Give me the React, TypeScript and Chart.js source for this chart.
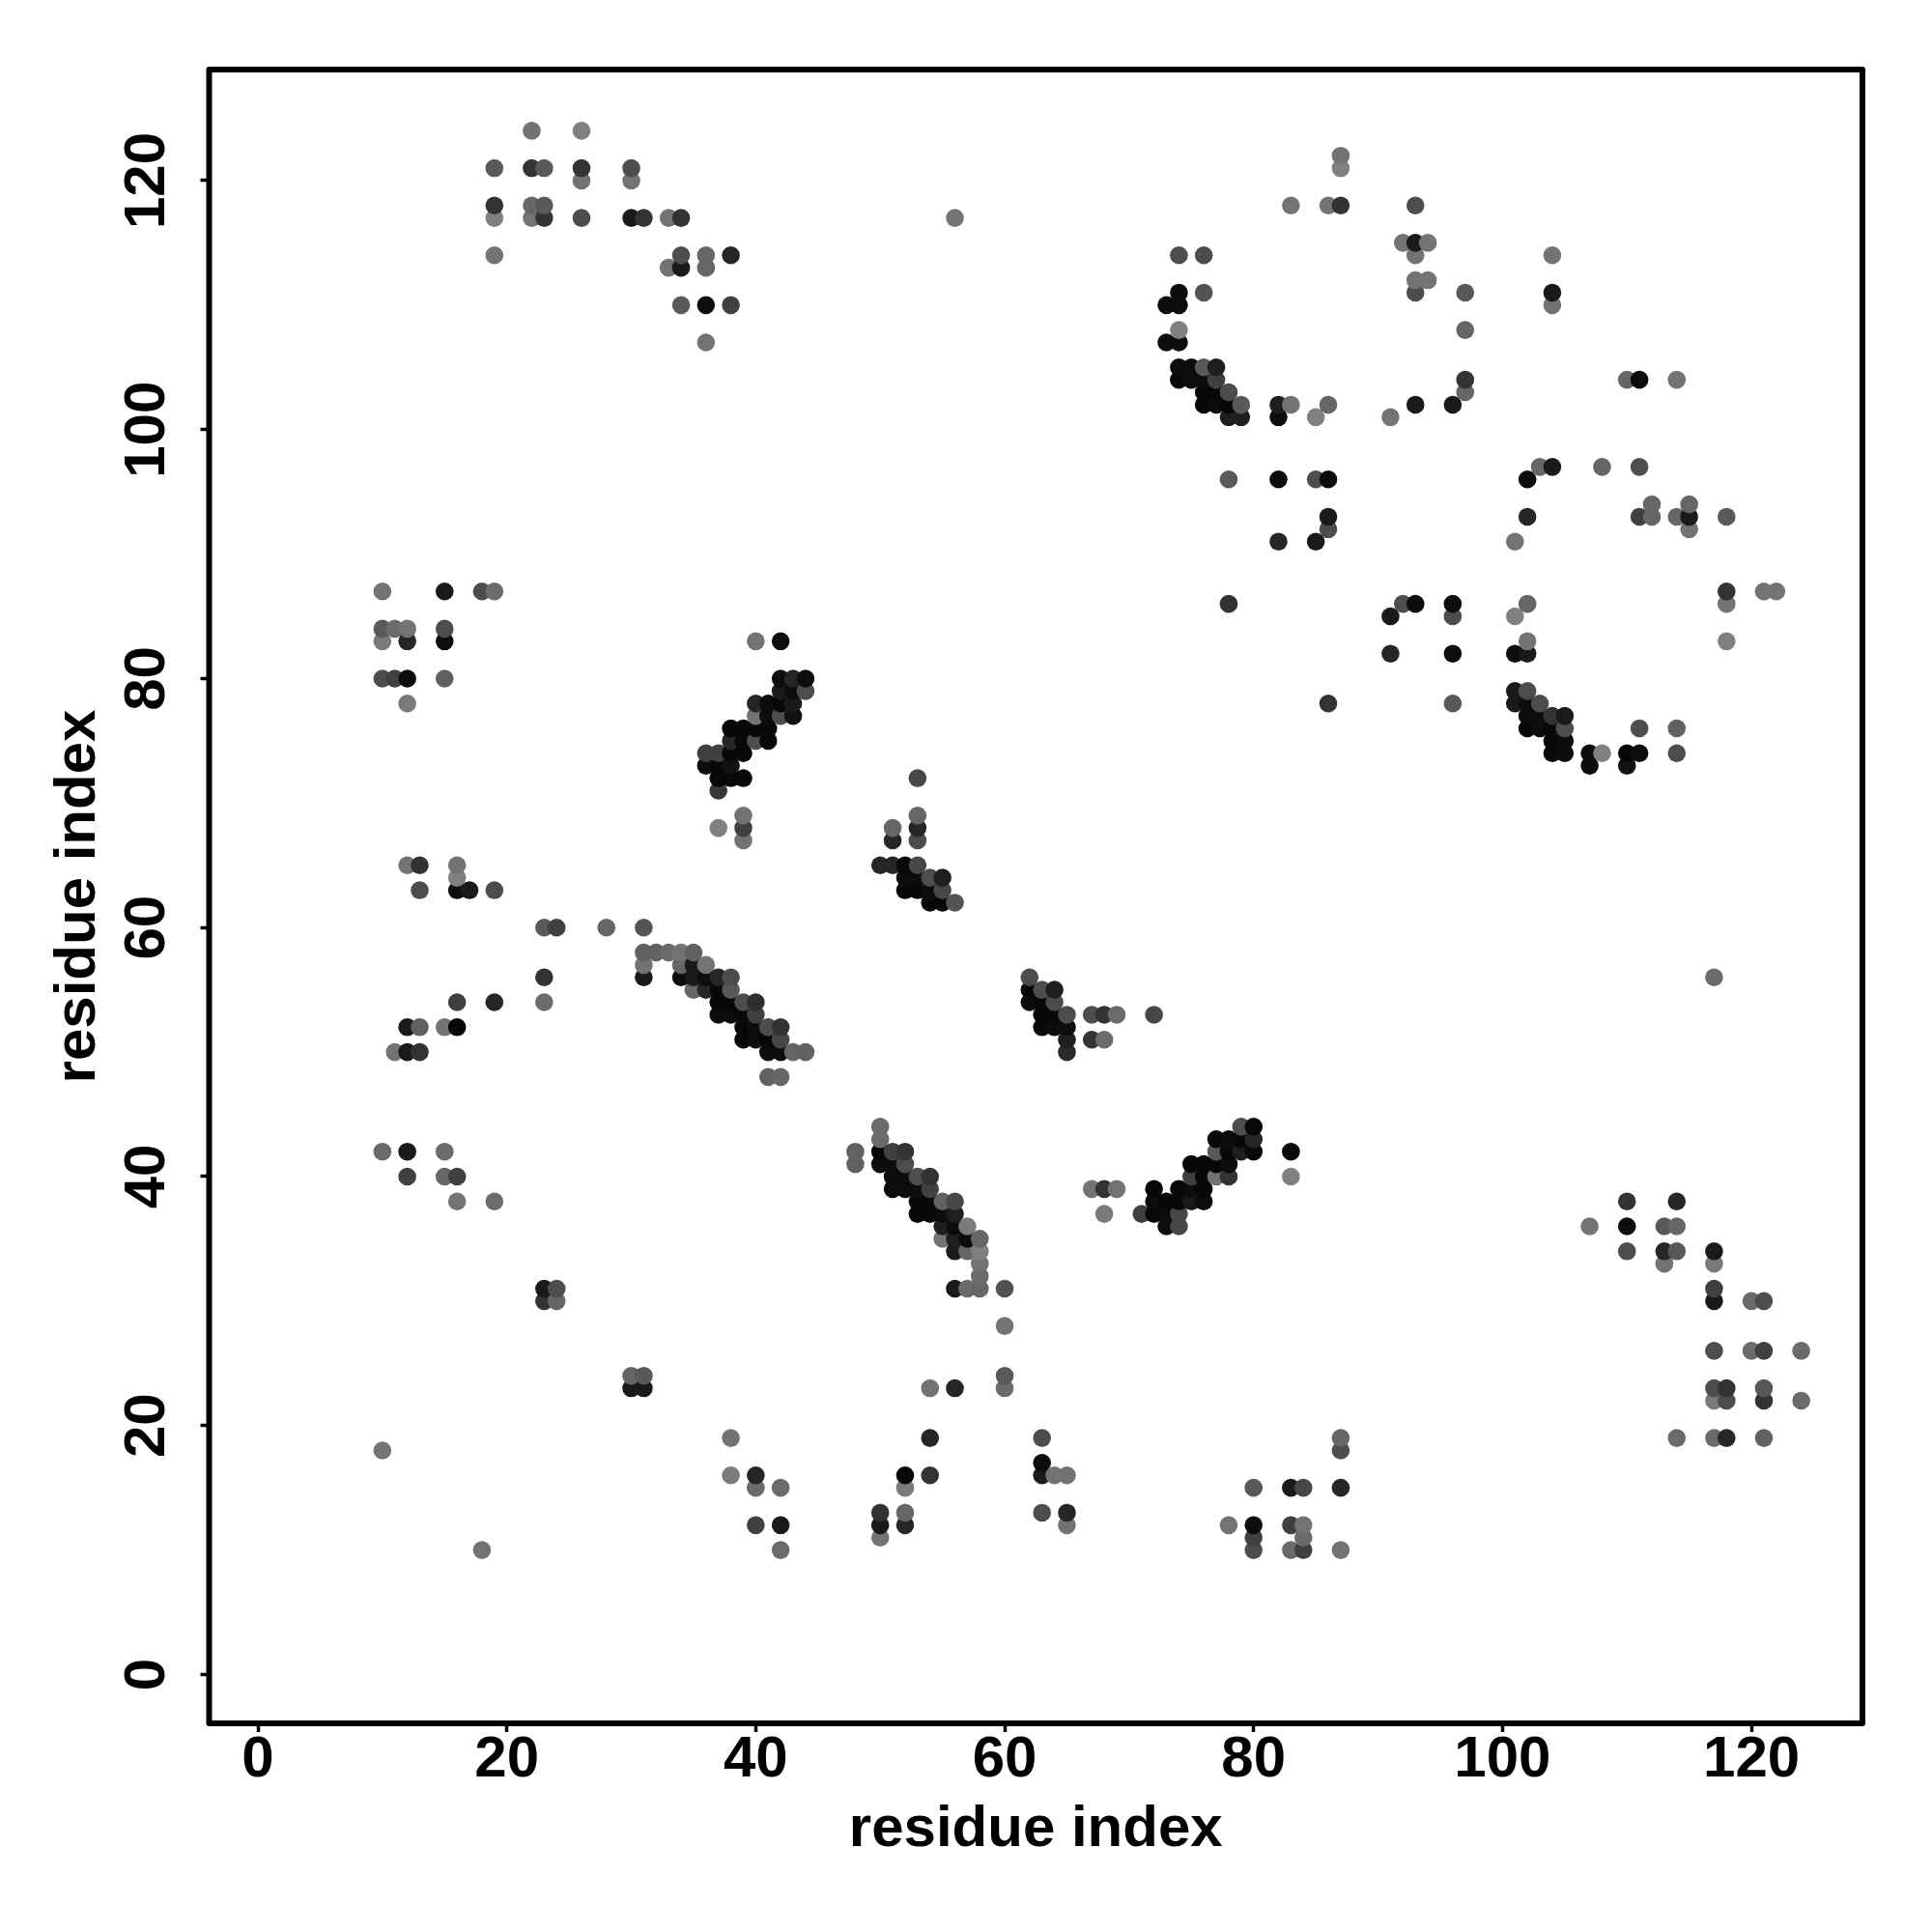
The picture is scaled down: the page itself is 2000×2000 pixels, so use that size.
import { useEffect, useRef } from "react";
import { Chart, registerables } from "chart.js";

Chart.register(...registerables);

type P = [number, number, number];

const axisTitle = "residue index";
const tickValues = [0, 20, 40, 60, 80, 100, 120];

// [residue x, residue y, grey level 0..1]
const topLeft: P[] = [
  [22,124,.45],[26,124,.5],[19,121,.35],[22,121,.2],[23,121,.35],[26,121,.2],[30,121,.3],[26,120,.45],[30,120,.45],
  [19,118,.2],[22,118,.4],[23,118,.35],[19,117,.5],[22,117,.45],[23,117,.2],[26,117,.3],[30,117,.1],[31,117,.2],[33,117,.45],[34,117,.2],
  [19,114,.45],[34,114,.3],[36,114,.4],[38,114,.15],[33,113,.45],[34,113,.1],[36,113,.4],[34,110,.35],[36,110,.05],[38,110,.25],[36,107,.45],[56,117,.45],
];
const topRight: P[] = [
  [87,122,.45],[87,121,.5],[83,118,.45],[86,118,.45],[87,118,.2],[93,118,.3],[92,115,.45],[93,115,.1],[94,115,.45],
  [74,114,.3],[76,114,.3],[93,114,.45],[104,114,.45],[93,112,.45],[94,112,.45],[74,111,.05],[76,111,.33],[93,111,.3],[97,111,.35],[104,111,.1],
  [73,110,.05],[74,110,.05],[104,110,.45],[74,108,.5],[97,108,.4],[73,107,.05],[74,107,.05],
  [74,105,.05],[75,105,.05],[76,105,.35],[77,105,.12],[74,104,.03],[75,104,.05],[76,104,.05],[77,104,.25],[97,104,.2],[110,104,.4],[111,104,.05],[114,104,.45],
  [76,103,.03],[77,103,.03],[78,103,.3],[97,103,.4],[76,102,.03],[77,102,.05],[78,102,.03],[79,102,.35],[82,102,.12],[83,102,.45],[86,102,.4],[93,102,.1],[96,102,.1],
  [78,101,.12],[79,101,.12],[82,101,.05],[85,101,.5],[91,101,.45],
];
const rightMiddle: P[] = [
  [103,97,.4],[104,97,.1],[108,97,.4],[111,97,.3],[78,96,.35],[82,96,.05],[85,96,.3],[86,96,.05],[102,96,.05],
  [112,94,.4],[115,94,.4],[86,93,.1],[102,93,.15],[111,93,.25],[112,93,.4],[114,93,.4],[115,93,.1],[118,93,.35],[86,92,.3],[115,92,.45],
  [82,91,.15],[85,91,.1],[101,91,.45],[118,87,.2],[121,87,.45],[122,87,.45],[78,86,.2],[92,86,.3],[93,86,.05],[96,86,.05],[102,86,.4],[118,86,.45],
  [91,85,.1],[96,85,.3],[101,85,.5],[102,83,.45],[118,83,.5],[91,82,.15],[96,82,.05],[101,82,.05],[102,82,.1],
  [101,79,.1],[102,79,.3],[86,78,.2],[96,78,.35],[101,78,.1],[102,78,.05],[103,78,.3],
  [102,77,.05],[103,77,.05],[104,77,.2],[105,77,.1],[102,76,.03],[103,76,.05],[104,76,.03],[105,76,.3],[111,76,.3],[114,76,.38],
  [104,75,.03],[105,75,.05],[104,74,.03],[105,74,.05],[107,74,.05],[108,74,.5],[110,74,.02],[111,74,.05],[114,74,.3],[107,73,.05],[110,73,.07],
];
const leftMiddle: P[] = [
  [10,87,.45],[15,87,.1],[18,87,.3],[19,87,.42],[10,84,.35],[11,84,.42],[12,84,.45],[15,84,.3],[10,83,.48],[12,83,.15],[15,83,.05],
  [10,80,.3],[11,80,.25],[12,80,.05],[15,80,.38],[12,78,.48],[12,65,.45],[13,65,.2],[16,65,.45],[16,64,.5],[13,63,.3],[16,63,.05],[17,63,.1],[19,63,.3],
  [23,60,.35],[24,60,.25],[28,60,.4],[23,56,.2],[16,54,.25],[19,54,.15],[23,54,.42],[12,52,.1],[13,52,.38],[15,52,.45],[16,52,.03],[11,50,.45],[12,50,.1],[13,50,.2],
  [10,42,.42],[12,42,.1],[15,42,.42],[12,40,.25],[15,40,.4],[16,40,.25],[16,38,.45],[19,38,.42],
  [23,31,.1],[24,31,.3],[23,30,.2],[24,30,.4],[30,24,.4],[31,24,.35],[30,23,.1],[31,23,.1],
];
const helixUpper: P[] = [
  [40,83,.45],[42,83,.05],[42,80,.05],[43,80,.15],[44,80,.05],[42,79,.1],[43,79,.05],[44,79,.3],[40,78,.15],[41,78,.05],[42,78,.03],[43,78,.1],
  [40,77,.45],[41,77,.05],[42,77,.3],[43,77,.07],[38,76,.03],[39,76,.03],[40,76,.03],[41,76,.03],[38,75,.15],[39,75,.03],[40,75,.3],[41,75,.03],
  [36,74,.25],[37,74,.25],[38,74,.03],[39,74,.03],[36,73,.05],[37,73,.03],[38,73,.07],[37,72,.03],[38,72,.03],[39,72,.03],[37,71,.22],
  [39,69,.45],[37,68,.5],[39,68,.25],[39,67,.45],
];
const sheetMiddle: P[] = [
  [53,72,.28],[53,69,.4],[51,68,.4],[53,68,.15],[51,67,.15],[53,67,.3],[50,65,.15],[51,65,.15],[52,65,.03],[53,65,.28],
  [52,64,.05],[53,64,.05],[54,64,.3],[55,64,.12],[52,63,.03],[53,63,.03],[54,63,.05],[55,63,.28],[54,62,.03],[55,62,.03],[56,62,.33],
];
const helixLower: P[] = [
  [31,60,.33],[31,58,.38],[32,58,.38],[33,58,.42],[34,58,.45],[35,58,.38],[31,57,.45],[34,57,.4],[35,57,.1],[36,57,.45],
  [31,56,.1],[34,56,.05],[35,56,.1],[36,56,.05],[37,56,.15],[38,56,.3],[35,55,.4],[36,55,.15],[37,55,.03],[38,55,.35],
  [37,54,.03],[38,54,.03],[39,54,.3],[40,54,.18],[37,53,.05],[38,53,.05],[39,53,.03],[40,53,.25],[39,52,.03],[40,52,.05],[41,52,.3],[42,52,.2],
  [39,51,.03],[40,51,.05],[41,51,.03],[42,51,.28],[41,50,.05],[42,50,.05],[43,50,.4],[44,50,.38],[41,48,.38],[42,48,.4],
];
const sheetLower: P[] = [
  [62,56,.3],[62,55,.03],[63,55,.3],[64,55,.12],[62,54,.05],[63,54,.03],[64,54,.3],[63,53,.03],[64,53,.03],[65,53,.3],[67,53,.3],[68,53,.2],[69,53,.42],[72,53,.28],
  [63,52,.03],[64,52,.05],[65,52,.05],[65,51,.12],[67,51,.2],[68,51,.42],[65,50,.17],
];
const strandDown: P[] = [
  [50,44,.42],[50,43,.42],[48,42,.38],[50,42,.03],[51,42,.25],[52,42,.2],[48,41,.38],[50,41,.05],[51,41,.05],[52,41,.3],
  [51,40,.05],[52,40,.05],[53,40,.3],[54,40,.2],[51,39,.05],[52,39,.05],[53,39,.05],[54,39,.25],[53,38,.03],[54,38,.03],[55,38,.38],[56,38,.28],
  [53,37,.03],[54,37,.03],[55,37,.05],[56,37,.12],[55,36,.12],[56,36,.05],[57,36,.48],[55,35,.45],[56,35,.12],[57,35,.05],[58,35,.4],
  [56,34,.1],[57,34,.4],[58,34,.5],[58,33,.45],[58,32,.42],[56,31,.1],[57,31,.42],[58,31,.4],[60,31,.32],[60,28,.45],[60,24,.35],[54,23,.45],[56,23,.15],[60,23,.42],
];
const strandUp: P[] = [
  [79,44,.3],[80,44,.03],[77,43,.03],[78,43,.05],[79,43,.03],[80,43,.15],[77,42,.35],[78,42,.03],[79,42,.12],[80,42,.03],[83,42,.03],
  [75,41,.03],[76,41,.03],[77,41,.03],[78,41,.05],[75,40,.25],[76,40,.03],[77,40,.45],[78,40,.2],[83,40,.5],
  [67,39,.45],[68,39,.2],[69,39,.45],[72,39,.03],[74,39,.03],[75,39,.05],[76,39,.03],[72,38,.05],[73,38,.03],[74,38,.03],[75,38,.1],[76,38,.05],
  [68,37,.48],[71,37,.25],[72,37,.03],[73,37,.05],[74,37,.28],[73,36,.05],[74,36,.28],
];
const bottomRight: P[] = [
  [117,56,.42],[110,38,.2],[114,38,.15],[107,36,.45],[110,36,.05],[113,36,.35],[114,36,.4],[110,34,.3],[113,34,.15],[114,34,.35],[117,34,.1],[113,33,.45],[117,33,.48],
  [117,31,.25],[117,30,.1],[120,30,.42],[121,30,.3],[117,26,.3],[120,26,.42],[121,26,.25],[124,26,.42],[117,23,.3],[118,23,.2],[121,23,.35],
  [117,22,.48],[118,22,.3],[121,22,.2],[124,22,.42],[114,19,.42],[117,19,.42],[118,19,.15],[121,19,.38],
];
const bottomRow: P[] = [
  [38,19,.45],[54,19,.15],[63,19,.3],[87,19,.4],[10,18,.45],[87,18,.3],[63,17,.05],[38,16,.48],[40,16,.15],[52,16,.03],[54,16,.2],[63,16,.1],[64,16,.45],[65,16,.45],
  [40,15,.42],[42,15,.42],[52,15,.48],[80,15,.35],[83,15,.1],[84,15,.28],[87,15,.15],[50,13,.2],[52,13,.4],[63,13,.3],[65,13,.15],
  [40,12,.25],[42,12,.1],[50,12,.1],[52,12,.15],[65,12,.45],[78,12,.45],[80,12,.05],[83,12,.25],[84,12,.45],[50,11,.45],[80,11,.25],[84,11,.42],
  [18,10,.45],[42,10,.42],[80,10,.3],[83,10,.42],[84,10,.25],[87,10,.45],
];

const allPoints: P[] = [
  ...topLeft, ...topRight, ...rightMiddle, ...leftMiddle, ...helixUpper, ...sheetMiddle,
  ...helixLower, ...sheetLower, ...strandDown, ...strandUp, ...bottomRight, ...bottomRow,
].sort((a, b) => a[0] - b[0] || a[1] - b[1]);

const grey = (g: number) => {
  const v = Math.round(g * 255);
  return `rgb(${v},${v},${v})`;
};

const FONT = "'Liberation Sans', Arial, sans-serif";
const AXIS_MIN = -3.92;
const AXIS_MAX = 128.92;

const framePlugin = {
  id: "frameAndYLabels",
  afterDraw(chart: any) {
    const { ctx, scales, chartArea } = chart;
    ctx.save();
    ctx.strokeStyle = "#000";
    ctx.lineWidth = 6;
    ctx.lineJoin = "round";
    ctx.strokeRect(chartArea.left, chartArea.top, chartArea.right - chartArea.left, chartArea.bottom - chartArea.top);
    ctx.font = `bold 60px ${FONT}`;
    ctx.fillStyle = "#000";
    ctx.textAlign = "center";
    ctx.textBaseline = "alphabetic";
    for (const value of tickValues) {
      ctx.save();
      ctx.translate(169.5, scales.y.getPixelForValue(value));
      ctx.rotate(-Math.PI / 2);
      ctx.fillText(String(value), 0, 0);
      ctx.restore();
    }
    ctx.restore();
  },
};

const gridOpts = { display: true, drawOnChartArea: false, drawTicks: true, tickLength: 9, tickWidth: 3.5, tickColor: "#000" };

export default function App() {
  const ref = useRef<HTMLCanvasElement>(null);
  useEffect(() => {
    const chart = new Chart(ref.current!, {
      type: "scatter",
      plugins: [framePlugin],
      data: {
        datasets: [
          {
            data: allPoints.map(([x, y]) => ({ x, y })),
            backgroundColor: allPoints.map((p) => grey(p[2])),
            borderWidth: 0,
            pointRadius: 9.3,
            pointHoverRadius: 9.3,
          },
        ],
      },
      options: {
        responsive: false,
        animation: false,
        layout: { padding: { left: 0, right: 72, top: 72, bottom: 0 } },
        plugins: { legend: { display: false }, tooltip: { enabled: false } },
        scales: {
          x: {
            type: "linear",
            min: AXIS_MIN,
            max: AXIS_MAX,
            afterBuildTicks: (s: any) => { s.ticks = tickValues.map((value) => ({ value })); },
            afterFit: (s: any) => { s.height = 216; },
            grid: gridOpts,
            border: { display: false },
            ticks: { display: true, font: { family: FONT, size: 60, weight: "bold" }, color: "#000", padding: -7, maxRotation: 0, autoSkip: false },
            title: { display: true, text: axisTitle, font: { family: FONT, size: 60, weight: "bold" }, color: "#000", padding: { top: 0, bottom: 70 } },
          },
          y: {
            type: "linear",
            min: AXIS_MIN,
            max: AXIS_MAX,
            afterBuildTicks: (s: any) => { s.ticks = tickValues.map((value) => ({ value })); },
            afterFit: (s: any) => { s.width = 216.5; },
            grid: gridOpts,
            border: { display: false },
            ticks: { display: false },
            title: { display: true, text: axisTitle, font: { family: FONT, size: 60, weight: "bold" }, color: "#000", padding: { top: 45, bottom: 0 } },
          },
        },
      },
    } as any);
    return () => chart.destroy();
  }, []);
  return <canvas ref={ref} width={2000} height={2000} style={{ position: "absolute", left: 0, top: 0, display: "block" }} />;
}
